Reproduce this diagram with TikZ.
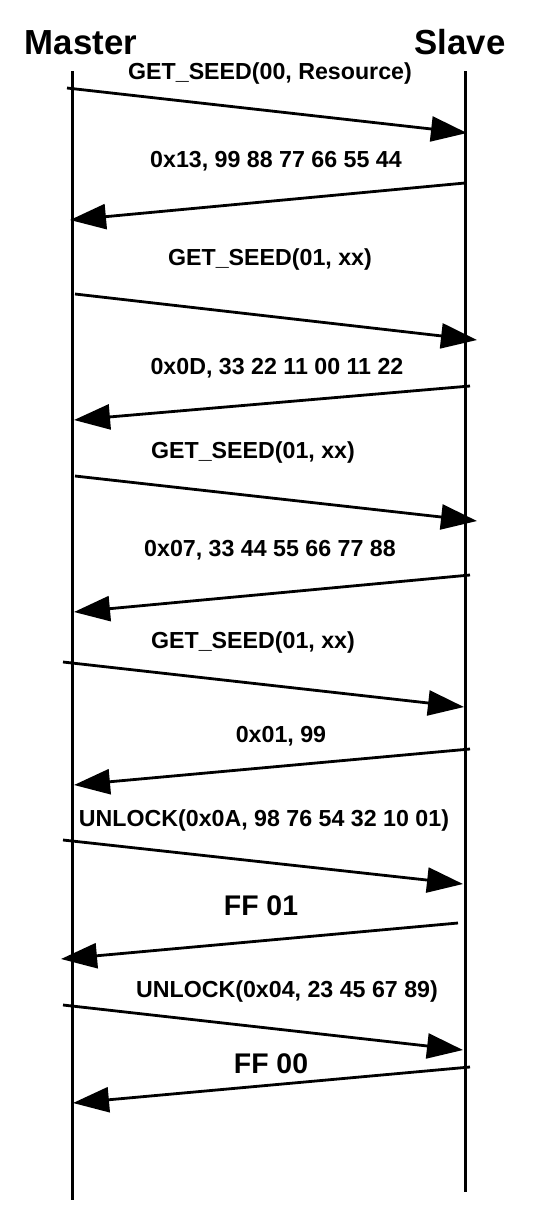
\documentclass[tikz,border=0pt]{standalone}
\usepackage{fontspec}
\setmainfont{Liberation Sans}
\usetikzlibrary{arrows.meta}

\begin{document}
\begin{tikzpicture}[x=0.5pt,y=-0.5pt,
    lifeline/.style={line width=1.5pt},
    msg/.style={line width=1.4pt,-{Triangle[length=18pt,width=12.5pt]}},
    head/.style={anchor=base,font=\bfseries\fontsize{17.4}{20}\selectfont},
    lbl/.style={anchor=base,font=\bfseries\fontsize{11.6}{14}\selectfont},
    biglbl/.style={anchor=base,font=\bfseries\fontsize{14.2}{17}\selectfont}]

    \useasboundingbox (0,0) rectangle (555,1228);

    % Draw the two lifelines
    \node[head] (master) at (81,54) {Master};
    \node[head] (slave) at (460,54) {Slave};
    \coordinate (mtop) at (72,71);
    \coordinate (mbot) at (72,1200);
    \coordinate (stop) at (465,71);
    \coordinate (sbot) at (465,1192);
    \draw[lifeline] (mtop) -- (mbot);
    \draw[lifeline] (stop) -- (sbot);

    % Draw the requests and the responses
    \foreach \n/\xa/\ya/\xb/\yb in {1/67/88/467/133, 2/465/183/70/220,
        3/75/294/477/340, 4/470/386/74/420, 5/75/476/477/521,
        6/470/575/74/612, 7/63/662/464/707, 8/470/749/74/785,
        9/63/840/463/884, 10/458/923/61/959, 11/63/1005/463/1050,
        12/470/1067/73/1103}
    {
        \coordinate (from\n) at (\xa,\ya);
        \coordinate (to\n) at (\xb,\yb);
        \draw[msg] (from\n) -- (to\n);
    }

    % Label each message
    \node[lbl] (l1) at (270,79) {GET\_SEED(00, Resource)};
    \node[lbl] (l2) at (276,167) {0x13, 99 88 77 66 55 44};
    \node[lbl] (l3) at (270,265) {GET\_SEED(01, xx)};
    \node[lbl] (l4) at (277,374) {0x0D, 33 22 11 00 11 22};
    \node[lbl] (l5) at (253,458) {GET\_SEED(01, xx)};
    \node[lbl] (l6) at (270,556) {0x07, 33 44 55 66 77 88};
    \node[lbl] (l7) at (253,648) {GET\_SEED(01, xx)};
    \node[lbl] (l8) at (281,742) {0x01, 99};
    \node[lbl] (l9) at (264,826) {UNLOCK(0x0A, 98 76 54 32 10 01)};
    \node[biglbl] (l10) at (261,915) {FF 01};
    \node[lbl] (l11) at (287,997) {UNLOCK(0x04, 23 45 67 89)};
    \node[biglbl] (l12) at (271,1073) {FF 00};

\end{tikzpicture}
\end{document}
